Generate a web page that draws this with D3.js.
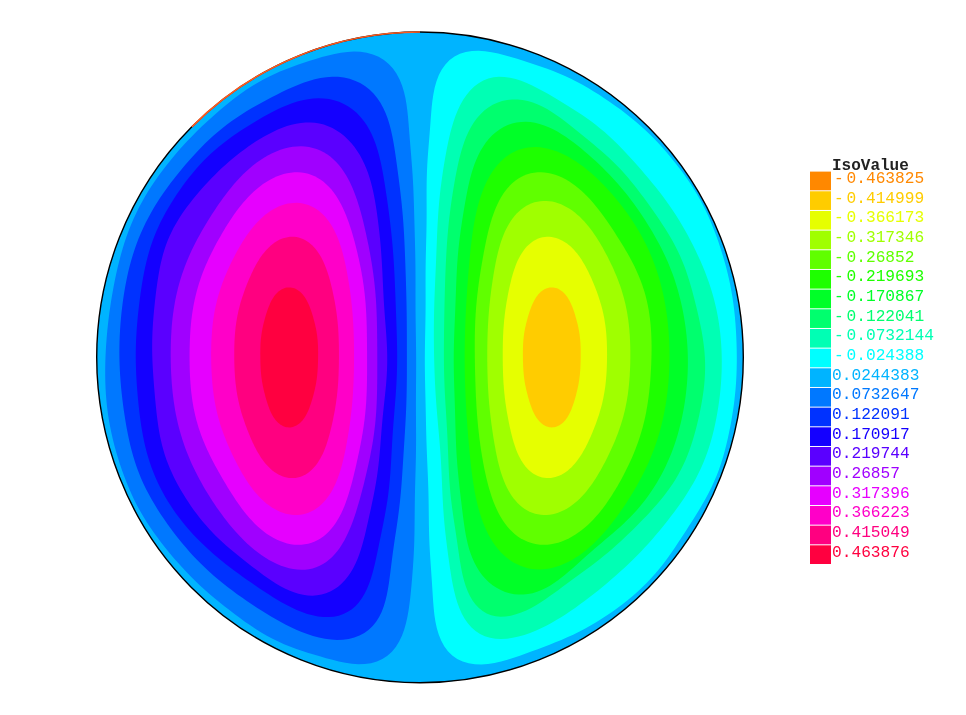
<!DOCTYPE html>
<html>
<head>
<meta charset="utf-8">
<script src="https://cdn.jsdelivr.net/npm/d3@7"></script>
<style>
  html, body { margin: 0; padding: 0; background: #fff; }
  svg { display: block; filter: blur(0.45px); }
  text { font-family: "Liberation Mono", monospace; }
</style>
</head>
<body>
<div id="chart"></div>
<script>
const width = 966;
const height = 715;

// Legend entries, top to bottom
const isoLabels = ["-0.463825", "-0.414999", "-0.366173", "-0.317346", "-0.26852", "-0.219693", "-0.170867", "-0.122041", "-0.0732144", "-0.024388",
  "0.0244383", "0.0732647", "0.122091", "0.170917", "0.219744", "0.26857", "0.317396", "0.366223", "0.415049", "0.463876"];
const isoColors = ["#ff8800", "#ffcc00", "#e6ff00", "#a0ff00", "#60ff00", "#1eff00", "#00ff28", "#00ff6e", "#00ffb4", "#00ffff",
  "#00b4ff", "#0078ff", "#0032ff", "#1400ff", "#5a00ff", "#a000ff", "#e600ff", "#ff00c8", "#ff0080", "#ff0040"];

// Disc extents, and the part of the rim that is drawn orange
const rimX = [96.7, 743.3];
const rimY = [32, 682.7];
const rimOrange = [[193, 128], [420, 32]];
const baseLabel = "0.0244383";

// Iso lines, outermost first. Positive lobe
const posLabels = ["0.0732647", "0.122091", "0.170917", "0.219744", "0.26857", "0.317396", "0.366223", "0.415049", "0.463876"];
const posLines = [
  [[416,360],[415.5,290],[414.5,220],[411,153],[406,103],[398.5,77],[387,62],[370,53],[357,52],[330,55],[297,65],[257,83],[220,110],[182,147],[147,193],[123,247],[111,303],[105,360],
   [106,385],[108,417],[115,447],[130,491],[152,530],[180,565],[213,597],[250,625],[290,647],[323,657],[357,664],[373,663],[388,657],[398,643],[407,617],[412,583],[415,500],[416,430]],
  [[407,360],[406.5,310],[405,253],[400,187],[395,153],[388,120],[377,97],[360,83],[340,77],[320,78],[287,90],[253,107],[217,133],[183,167],[153,210],[133,253],[123,303],[119,360],
   [123,400],[133,457],[160,513],[200,563],[243,598],[290,627],[330,639],[353,638],[377,623],[388,583],[398,517],[405,433]],
  [[397,360],[395,287],[390,220],[382,170],[373,137],[357,113],[340,102],[323,98],[297,102],[267,115],[227,140],[193,173],[165,213],[147,260],[138,313],[136,360],
   [138,400],[147,453],[173,510],[213,553],[257,587],[303,612],[330,617],[357,607],[373,567],[385,517],[393,433]],
  [[387,360],[383,287],[378,220],[367,170],[348,140],[330,127],[312,121],[287,127],[253,143],[220,170],[190,203],[165,247],[155,303],[152,360],
   [155,393],[163,450],[187,500],[220,540],[257,570],[293,592],[317,596],[343,583],[360,550],[373,500],[383,417]],
  [[377,355],[373.8,274.6],[358,206.5],[337,161],[305,145],[261.2,161],[216.3,206.5],[182.6,274.6],[170,355],[182.6,438],[216.3,508.4],[265,555.5],[307,572],[335,555.5],[356,508.4],[373.8,438]],
  [[367,355],[363.6,284.5],[349,224.9],[328,185],[300,171],[263.5,185],[226.6,224.9],[199.2,284.5],[189,355],[199.2,428.2],[229,490],[265,531.5],[303,546],[330,531.5],[349,490],[363.6,428.2]],
  [[354,355],[350.8,296.4],[340.5,246.8],[322.6,213.6],[297.4,202],[267.8,213.6],[239.3,246.8],[218.4,296.4],[210.8,355],[218.4,416.7],[239.3,468.8],[267.8,503.8],[297.4,516],[322.6,503.8],[340.5,468.8],[350.8,416.7]],
  [[339,355],[336,309.4],[326.9,270.9],[312,245],[293,236],[272,245],[252.7,270.9],[239,309.4],[234,355],[239,402.5],[252.7,442.7],[272,469.6],[293,479],[312,469.6],[326.9,442.7],[336,402.5]],
  [[318.2,355],[316,329],[309.7,307],[300.3,292],[289.2,287],[278,292],[268.7,307],[262.4,329],[260.2,355],[262.4,383],[268.7,407],[278,422.5],[289.2,428],[300.3,422.5],[309.7,407],[316,383]]
];

// Negative lobe
const negLabels = ["-0.024388", "-0.0732144", "-0.122041", "-0.170867", "-0.219693", "-0.26852", "-0.317346", "-0.366173", "-0.414999"];
const negLines = [
  [[425,360],[425.5,300],[426,253],[428,153],[433,100],[440,73],[450,58],[467,52],[482,51],[510,57],[543,67],[577,82],[610,102],[643,128],[677,165],[703,205],[720,247],[730,283],[735,320],[737,360],
   [736,383],[730,428],[720,467],[699,510],[673,550],[643,587],[610,613],[577,633],[543,647],[510,659],[483,664],[467,663],[450,655],[440,637],[433,600],[430,550],[427,450],[425.5,410]],
  [[434,360],[435,287],[438,220],[443,170],[452,127],[465,98],[482,80],[497,76],[523,82],[553,97],[587,118],[620,147],[650,180],[677,217],[700,260],[715,303],[722,360],
   [720,393],[712,437],[697,477],[673,513],[643,550],[610,580],[577,607],[543,627],[503,639],[480,635],[465,620],[453,583],[447,550],[440,450]],
  [[444,360],[445,287],[449,220],[457,170],[468,133],[487,108],[510,99],[533,103],[563,120],[597,147],[627,177],[653,210],[677,250],[693,293],[705,360],
   [702,400],[692,443],[673,483],[643,520],[610,550],[577,577],[543,600],[510,616],[493,617],[473,603],[462,567],[453,517],[447,433]],
  [[454,360],[456,287],[462,220],[470,180],[483,147],[503,127],[527,121],[553,130],[587,153],[617,183],[643,217],[667,260],[682,307],[688,360],
   [685,400],[675,443],[657,483],[627,520],[590,553],[553,583],[530,595],[507,592],[483,577],[468,543],[460,493],[455,417]],
  [[670,355],[657.4,274.6],[623.5,206.5],[572,161],[532,145],[500,161],[478.5,206.5],[468,274.6],[465,355],[468,437.7],[479,507.7],[502,554.6],[537,571],[578,554.6],[624,507.7],[657.4,437.7]],
  [[652,355],[641.8,284.5],[610,225],[573,185],[538,171],[509,185],[491,225],[478.2,284.5],[475,355],[478.2,428],[490,490],[511,531.5],[543,546],[578,531.5],[616,490],[641.8,428]],
  [[630.7,355],[622.9,295.6],[601.7,245.4],[572.8,211.8],[543,200],[517.8,211.8],[500.3,245.4],[490.5,295.6],[487.3,355],[490.5,416.7],[500.3,468.8],[517.8,503.8],[543,516],[572.8,503.8],[601.7,468.8],[622.9,416.7]],
  [[607.3,355],[602.1,309.4],[588,270.9],[568.2,245],[547,236],[528.2,245],[514,270.9],[505.5,309.4],[502.7,355],[505.5,402.5],[514,442.7],[528.2,469.6],[547,479],[568.2,469.6],[588,442.7],[602.1,402.5]],
  [[580.8,355],[578.6,329],[572.3,307],[562.9,292],[551.8,287],[540.7,292],[531.3,307],[525,329],[522.8,355],[525,383],[531.3,407],[540.7,422.5],[551.8,428],[562.9,422.5],[572.3,407],[578.6,383]]
];

// Scales
const x = d3.scaleLinear().domain(rimX).range(rimX);
const y = d3.scaleLinear().domain(rimY).range(rimY);
const color = d3.scaleOrdinal().domain(isoLabels).range(isoColors);
const legendY = d3.scaleBand().domain(isoLabels).range([171.6, 564]).paddingInner(0.05).paddingOuter(0);

const svg = d3.select("#chart")
  .append("svg")
  .attr("width", width)
  .attr("height", height);

const cx = (x(rimX[0]) + x(rimX[1])) / 2;
const cy = (y(rimY[0]) + y(rimY[1])) / 2;
const rx = (x(rimX[1]) - x(rimX[0])) / 2;
const ry = (y(rimY[1]) - y(rimY[0])) / 2;

svg.append("clipPath")
  .attr("id", "disc")
  .append("ellipse")
  .attr("cx", cx)
  .attr("cy", cy)
  .attr("rx", rx)
  .attr("ry", ry);

const plot = svg.append("g").attr("clip-path", "url(#disc)");

plot.append("rect")
  .attr("x", x(rimX[0]))
  .attr("y", y(rimY[0]))
  .attr("width", rx * 2)
  .attr("height", ry * 2)
  .attr("fill", color(baseLabel));

const rawLine = d3.line()
  .x(d => x(d[0]))
  .y(d => y(d[1]))
  .curve(d3.curveCatmullRomClosed.alpha(0.5));

const smoothLine = d3.line().curve(d3.curveLinearClosed);

// Hand read points are noisy, so low-pass the outline (keep the first few harmonics)
const samples = 240;
const lowPass = (pts) => {
  const temp = svg.append("path").attr("d", rawLine(pts));
  const len = temp.node().getTotalLength();
  const sampled = d3.range(samples).map(i => temp.node().getPointAtLength(len * i / samples));
  temp.remove();

  const keep = Math.max(6, Math.floor(pts.length / 2.2));
  const out = sampled.map(() => [0, 0]);
  for (let k = -keep; k <= keep; k++) {
    let re = 0, im = 0, re2 = 0, im2 = 0;
    sampled.forEach((p, i) => {
      const a = -2 * Math.PI * k * i / samples;
      re += p.x * Math.cos(a);
      im += p.x * Math.sin(a);
      re2 += p.y * Math.cos(a);
      im2 += p.y * Math.sin(a);
    });
    out.forEach((o, i) => {
      const a = 2 * Math.PI * k * i / samples;
      o[0] += (re * Math.cos(a) - im * Math.sin(a)) / samples;
      o[1] += (re2 * Math.cos(a) - im2 * Math.sin(a)) / samples;
    });
  }
  return out;
};

const drawLobe = (labels, lines) => {
  lines.forEach((pts, i) => {
    plot.append("path")
      .attr("d", smoothLine(lowPass(pts)))
      .attr("fill", color(labels[i]));
  });
};

drawLobe(posLabels, posLines);
drawLobe(negLabels, negLines);

// Rim
svg.append("ellipse")
  .attr("cx", cx)
  .attr("cy", cy)
  .attr("rx", rx)
  .attr("ry", ry)
  .attr("fill", "none")
  .attr("stroke", "#000")
  .attr("stroke-width", 1.4);

// Start of orange arc sits on the rim, so only the angle of the first point matters
const arcStart = Math.atan2((y(rimOrange[0][1]) - cy) / ry, (x(rimOrange[0][0]) - cx) / rx);
const arcEnd = Math.atan2((y(rimOrange[1][1]) - cy) / ry, (x(rimOrange[1][0]) - cx) / rx);
svg.append("path")
  .attr("d", `M${cx + rx * Math.cos(arcStart)},${cy + ry * Math.sin(arcStart)}A${rx},${ry} 0 0 1 ${cx + rx * Math.cos(arcEnd)},${cy + ry * Math.sin(arcEnd)}`)
  .attr("fill", "none")
  .attr("stroke", "#ff5a1e")
  .attr("stroke-width", 1.6);

// Legend
const legend = svg.append("g");

legend.append("text")
  .attr("x", 832)
  .attr("y", 170)
  .attr("font-size", 16)
  .attr("font-weight", "bold")
  .attr("fill", "#222")
  .text("IsoValue");

legend.selectAll("rect")
  .data(isoLabels)
  .join("rect")
  .attr("x", 810)
  .attr("y", d => legendY(d))
  .attr("width", 21)
  .attr("height", legendY.bandwidth())
  .attr("fill", d => color(d));

const labels = legend.selectAll("text.iso")
  .data(isoLabels)
  .join("text")
  .attr("class", "iso")
  .attr("y", d => legendY(d) + 11.5)
  .attr("font-size", 16.2)
  .attr("fill", d => color(d));

labels.append("tspan")
  .attr("x", 834)
  .text(d => d.startsWith("-") ? "-" : "");

labels.append("tspan")
  .attr("x", d => d.startsWith("-") ? 846.5 : 832)
  .text(d => d.replace("-", ""));
</script>
</body>
</html>
